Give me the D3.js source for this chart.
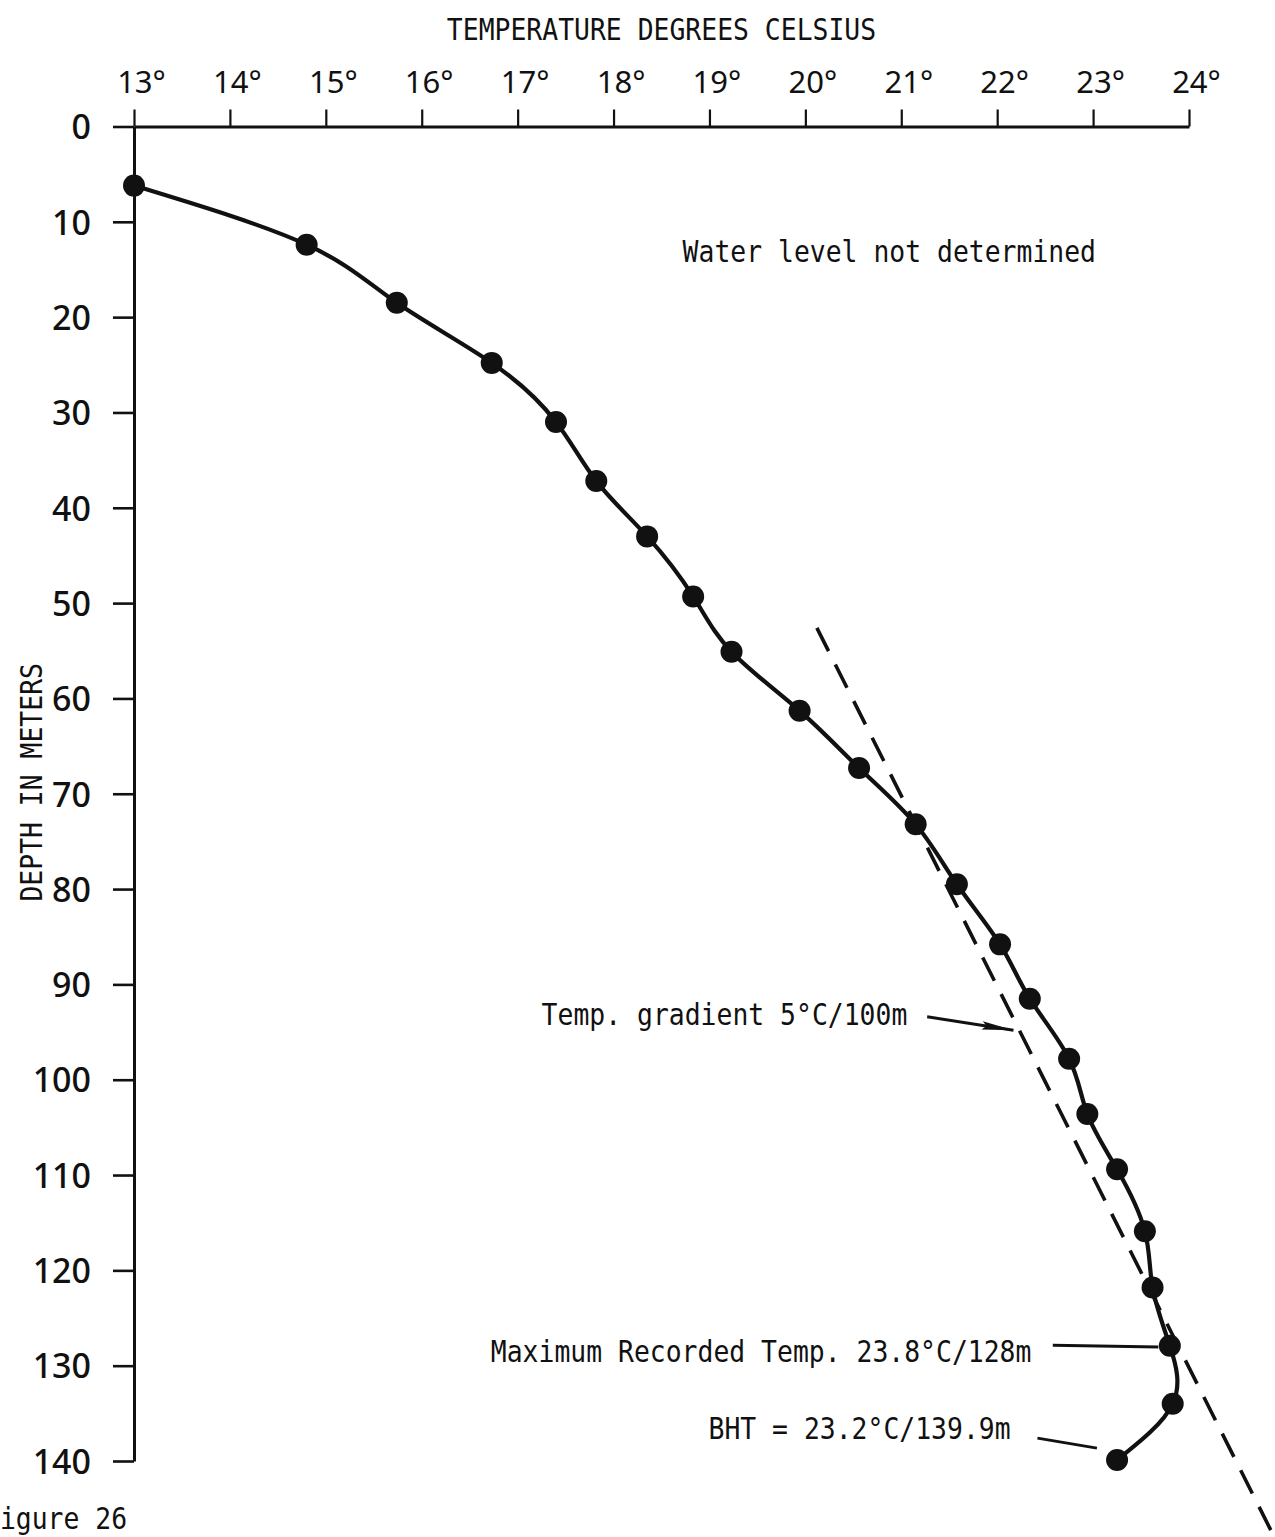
<!DOCTYPE html>
<html>
<head>
<meta charset="utf-8">
<script src="https://cdn.jsdelivr.net/npm/d3@7"></script>
<style>
  html, body { margin: 0; padding: 0; background: #fff; }
  svg { display: block; }
  .mono { font-family: 'DejaVu Sans Mono', 'Liberation Mono', monospace; font-size: 30px; fill: #111; }
  .tick text { font-family: 'Noto Sans', 'Open Sans', sans-serif; fill: #111; }
</style>
</head>
<body>
<svg id="chart"></svg>
<script>
const width = 1275;
const height = 1537;

// temperature ticks (deg C) and depth ticks (m)
const tempTicks = d3.range(13, 25);
const depthTicks = d3.range(0, 150, 10);

const temps = [13.0, 14.8, 15.74, 16.73, 17.4, 17.82, 18.35, 18.83, 19.23, 19.94, 20.56, 21.15,
  21.58, 22.03, 22.34, 22.75, 22.94, 23.25, 23.54, 23.62, 23.8, 23.83, 23.25];
const depths = [6.2, 12.4, 18.5, 24.8, 31.0, 37.2, 43.0, 49.3, 55.1, 61.3, 67.3, 73.2,
  79.5, 85.8, 91.5, 97.8, 103.6, 109.4, 115.9, 121.8, 127.9, 134.0, 139.9];

// 5 C / 100 m gradient line (temp, depth)
const gradientLine = [[20.12, 52.6], [24.92, 148.6]];

// notes: text, start (temp, depth) and leader (temp, depth) pairs
const notes = [
  { text: 'Water level not determined', at: [18.72, 14.2], leader: null, arrow: false },
  { text: 'Temp. gradient 5°C/100m', at: [17.25, 94.3], leader: [[21.27, 93.4], [22.17, 94.8]], arrow: true },
  { text: 'Maximum Recorded Temp. 23.8°C/128m', at: [16.72, 129.6], leader: [[22.58, 127.85], [23.68, 128.05]], arrow: false },
  { text: 'BHT = 23.2°C/139.9m', at: [18.99, 137.7], leader: [[22.42, 137.6], [23.04, 138.65]], arrow: false },
];

const charWidth = 15.9;

const sel = d3.select('#chart').attr('width', width).attr('height', height);

const xScale = d3.scaleLinear().domain([13, 24]).range([134, 1189]);
const yScale = d3.scaleLinear().domain([0, 140]).range([126.5, 1461]);

// top temperature axis
const xAxis = d3.axisTop(xScale)
  .tickValues(tempTicks)
  .tickSize(17)
  .tickSizeOuter(0)
  .tickPadding(17)
  .tickFormat(d => d + '°');
const gx = sel.append('g')
  .attr('transform', `translate(0,${yScale(0)})`)
  .call(xAxis);
gx.select('.domain').attr('stroke', '#111').attr('stroke-width', 3);
gx.selectAll('.tick line').attr('stroke', '#111').attr('stroke-width', 2.2);
gx.selectAll('.tick text')
  .attr('font-size', 31)
  .attr('dx', 7)
  .attr('text-anchor', 'middle');

// left depth axis
const yAxis = d3.axisLeft(yScale)
  .tickValues(depthTicks)
  .tickSize(21)
  .tickSizeOuter(0)
  .tickPadding(22);
const gy = sel.append('g')
  .attr('transform', `translate(${xScale(13)},0)`)
  .call(yAxis);
gy.select('.domain').attr('stroke', '#111').attr('stroke-width', 3);
gy.selectAll('.tick line').attr('stroke', '#111').attr('stroke-width', 2.6);
gy.selectAll('.tick text')
  .attr('font-size', 34)
  .attr('font-weight', 500)
  .attr('dy', '0.36em');

// axis titles
sel.append('text')
  .attr('class', 'mono')
  .attr('x', (xScale(13) + xScale(24)) / 2)
  .attr('y', 40)
  .attr('text-anchor', 'middle')
  .attr('textLength', 27 * charWidth)
  .attr('lengthAdjust', 'spacingAndGlyphs')
  .text('TEMPERATURE DEGREES CELSIUS');

sel.append('text')
  .attr('class', 'mono')
  .attr('transform', `translate(42,${yScale(68.8)}) rotate(-90)`)
  .attr('text-anchor', 'middle')
  .attr('textLength', 15 * charWidth)
  .attr('lengthAdjust', 'spacingAndGlyphs')
  .text('DEPTH IN METERS');

// gradient line
sel.append('line')
  .attr('x1', xScale(gradientLine[0][0]))
  .attr('y1', yScale(gradientLine[0][1]))
  .attr('x2', xScale(gradientLine[1][0]))
  .attr('y2', yScale(gradientLine[1][1]))
  .attr('stroke', '#111')
  .attr('stroke-width', 3.6)
  .attr('stroke-dasharray', '26 15');

// temperature curve
const readings = temps.map((t, i) => ({ t, d: depths[i] }));
const line = d3.line()
  .x(p => xScale(p.t))
  .y(p => yScale(p.d))
  .curve(d3.curveNatural);
sel.append('path')
  .datum(readings)
  .attr('d', line)
  .attr('fill', 'none')
  .attr('stroke', '#111')
  .attr('stroke-width', 4.2);

sel.append('g')
  .selectAll('circle')
  .data(readings)
  .join('circle')
  .attr('cx', p => xScale(p.t))
  .attr('cy', p => yScale(p.d))
  .attr('r', 11)
  .attr('fill', '#111');

// notes with leaders
const noteG = sel.append('g');
notes.forEach(n => {
  noteG.append('text')
    .attr('class', 'mono')
    .attr('x', xScale(n.at[0]))
    .attr('y', yScale(n.at[1]))
    .attr('textLength', n.text.length * charWidth)
    .attr('lengthAdjust', 'spacingAndGlyphs')
    .text(n.text);
  if (!n.leader) return;
  const [a, b] = n.leader.map(p => [xScale(p[0]), yScale(p[1])]);
  noteG.append('line')
    .attr('x1', a[0]).attr('y1', a[1])
    .attr('x2', b[0]).attr('y2', b[1])
    .attr('stroke', '#111')
    .attr('stroke-width', 3);
  if (n.arrow) {
    const ang = Math.atan2(b[1] - a[1], b[0] - a[0]);
    const len = 32;
    const head = [
      b,
      [b[0] - len * Math.cos(ang - 0.13), b[1] - len * Math.sin(ang - 0.13)],
      [b[0] - len * 0.85 * Math.cos(ang), b[1] - len * 0.85 * Math.sin(ang)],
      [b[0] - len * Math.cos(ang + 0.13), b[1] - len * Math.sin(ang + 0.13)],
    ];
    noteG.append('path')
      .attr('d', d3.line()(head) + 'Z')
      .attr('fill', '#111');
  }
});

// figure number at the lower left, its first letter cropped by the page edge as in the scan
sel.append('text')
  .attr('class', 'mono')
  .attr('x', -16)
  .attr('y', 1529)
  .attr('textLength', 9 * charWidth)
  .attr('lengthAdjust', 'spacingAndGlyphs')
  .text('Figure 26');
</script>
</body>
</html>
